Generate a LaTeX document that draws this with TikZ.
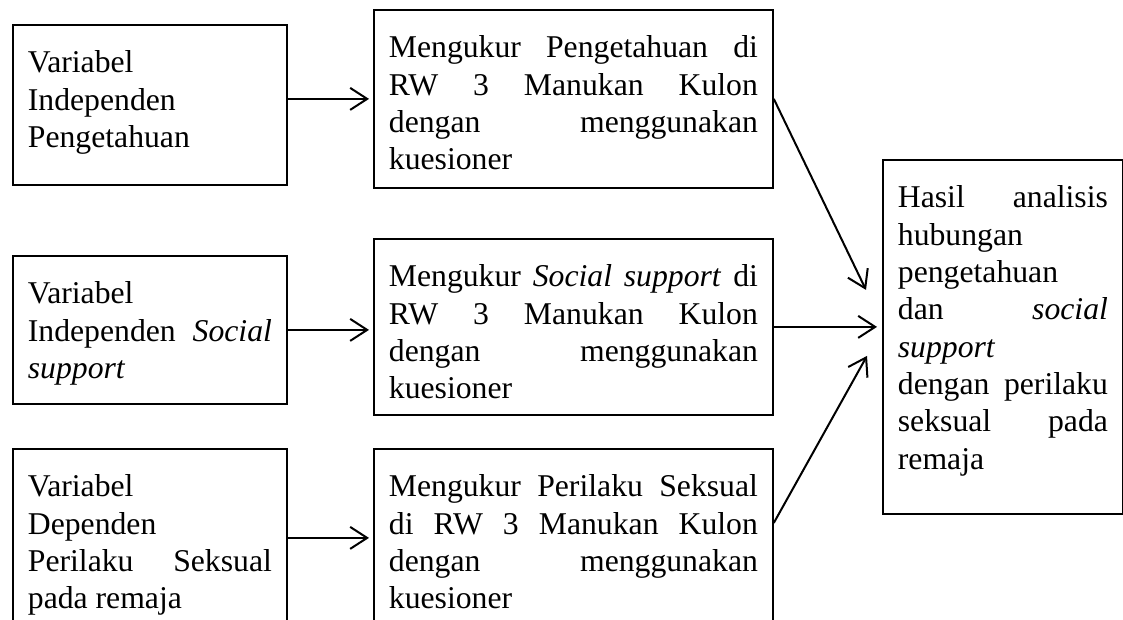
\documentclass[tikz,border=0pt]{standalone}
\usepackage{fontspec}
\setmainfont{Liberation Serif}
\usetikzlibrary{arrows.meta}

\begin{document}
\begin{tikzpicture}[x=1pt, y=-1pt,
    kotak/.style={draw, line width=1.8pt, text width=#1, align=justify,
        inner xsep=15pt, inner ysep=0pt, text height=48pt, anchor=north west,
        font=\fontsize{31.7}{37.3}\selectfont},
    panah/.style={-{Straight Barb[length=17pt,width=22pt]}, line width=2pt}]
    \clip (0,0) rectangle (1123,620);
    \fill[white] (0,0) rectangle (1123,620);
    % kolom kiri: variabel
    \node[kotak=244pt, text depth=112pt] (var1) at (12,24)
        {Variabel\linebreak Independen\linebreak Pengetahuan};
    \node[kotak=244pt, text depth=100pt] (var2) at (12,255)
        {Variabel\linebreak Independen \textit{Social}\linebreak \textit{support}};
    \node[kotak=244pt, text depth=130pt] (var3) at (12,448)
        {Variabel\linebreak Dependen\linebreak Perilaku Seksual\linebreak pada remaja};
    % kolom tengah: pengukuran
    \node[kotak=369pt, text depth=130pt] (ukur1) at (373,9)
        {Mengukur Pengetahuan di\linebreak RW 3 Manukan Kulon\linebreak dengan menggunakan\linebreak kuesioner};
    \node[kotak=369pt, text depth=128pt] (ukur2) at (373,238)
        {Mengukur \textit{Social support} di\linebreak RW 3 Manukan Kulon\linebreak dengan menggunakan\linebreak kuesioner};
    \node[kotak=369pt, text depth=130pt] (ukur3) at (373,448)
        {Mengukur Perilaku Seksual\linebreak di RW 3 Manukan Kulon\linebreak dengan menggunakan\linebreak kuesioner};
    % hasil
    \node[kotak=210pt, text depth=306pt] (hasil) at (882,159)
        {Hasil analisis\linebreak hubungan\linebreak pengetahuan\linebreak dan \textit{social}\linebreak \textit{support}\linebreak dengan perilaku\linebreak seksual pada\linebreak remaja};
    \draw[panah, shorten >=4pt] (var1.east |- ukur1.west) -- (ukur1.west);
    \draw[panah, shorten >=4pt] (var2.east) -- (var2.east -| ukur2.west);
    \draw[panah, shorten >=4pt] (var3.east) -- (var3.east -| ukur3.west);
    \draw[panah] (ukur1.east) -- ([xshift=-16pt, yshift=47pt]hasil.west);
    \draw[panah, shorten >=5pt] (ukur2.east) -- (ukur2.east -| hasil.west);
    \draw[panah] ([yshift=15pt]ukur3.east) -- ([xshift=-15pt, yshift=-19pt]hasil.west);
\end{tikzpicture}
\end{document}
